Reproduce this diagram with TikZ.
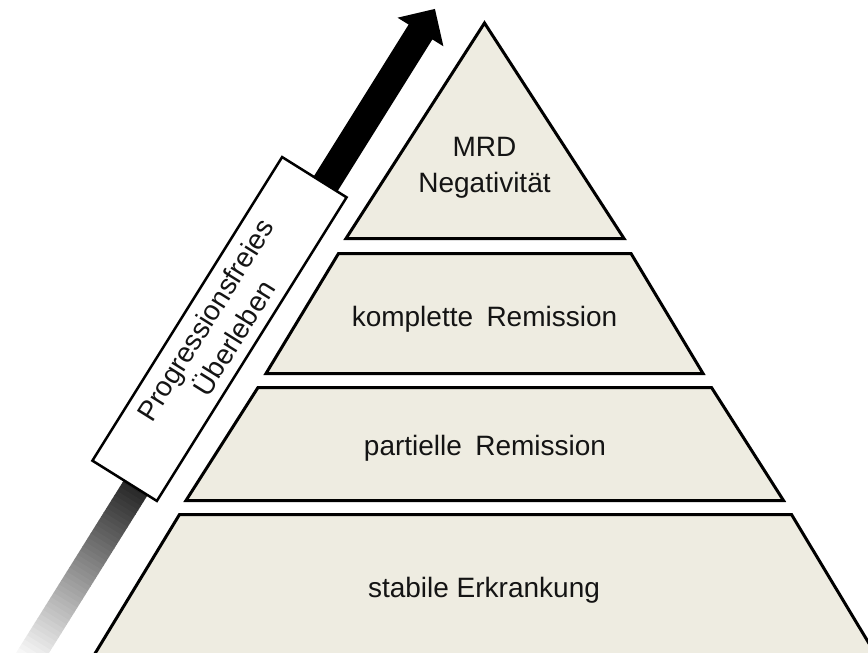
\documentclass[tikz,border=0pt]{standalone}
\usepackage{fontspec}
\setmainfont{Liberation Sans}
\definecolor{layerfill}{RGB}{238,236,225}
\definecolor{txt}{RGB}{20,20,20}
\begin{document}
\begin{tikzpicture}[x=1pt,y=-1pt,
  layer/.style={fill=layerfill, draw=black, line width=3pt, line join=miter},
  lbl/.style={font=\fontsize{28}{36}\selectfont, text=txt, inner sep=0pt, align=center},
  boxlbl/.style={draw=black, fill=white, line width=2.5pt, rotate=58,
    minimum width=358pt, minimum height=76pt, inner sep=0pt, align=center,
    font=\fontsize{28}{34}\selectfont, text=txt}]
\useasboundingbox (0,0) rectangle (868,653);
\clip (0,0) rectangle (868,653);
% pyramid layers
\draw[layer] (484.5,23) -- (624,238.5) -- (346,238.5) -- cycle;
\draw[layer] (338.5,253.5) -- (631,253.5) -- (703,373.5) -- (266,373.5) -- cycle;
\draw[layer] (258,387.5) -- (711.5,387.5) -- (783.5,500.5) -- (186,500.5) -- cycle;
\draw[layer] (179.5,514.5) -- (791.5,514.5) -- (885,670) -- (85,670) -- cycle;
% labels
\node[lbl, anchor=center] (l1) at (484.5,168) {MRD\\Negativität};
\node[lbl, anchor=base] (l2) at (484.5,326) {komplette\hspace{0.2em} Remission};
\node[lbl, anchor=base] (l3) at (485,455) {partielle\hspace{0.2em} Remission};
\node[lbl, anchor=base] (l4) at (484,597) {stabile Erkrankung};
% arrow
\begin{scope}[shift={(420.5,32)}, rotate=58]
  \foreach \i in {0,...,48}{
    \pgfmathsetmacro\p{100-100*(\i+0.5)/49}
    \fill[black!\p!white] ({-500-5*\i},-14) rectangle ({-500-5*\i-5.6},14);
  }
  \fill[black] (-500,-14) -- (0,-14) -- (0,-27) -- (27.2,0) -- (0,27) -- (0,14) -- (-500,14) -- cycle;
\end{scope}
% label box
\node[boxlbl] (pfs) at (219.5,329) {Progressionsfreies\\Überleben};
\end{tikzpicture}
\end{document}
